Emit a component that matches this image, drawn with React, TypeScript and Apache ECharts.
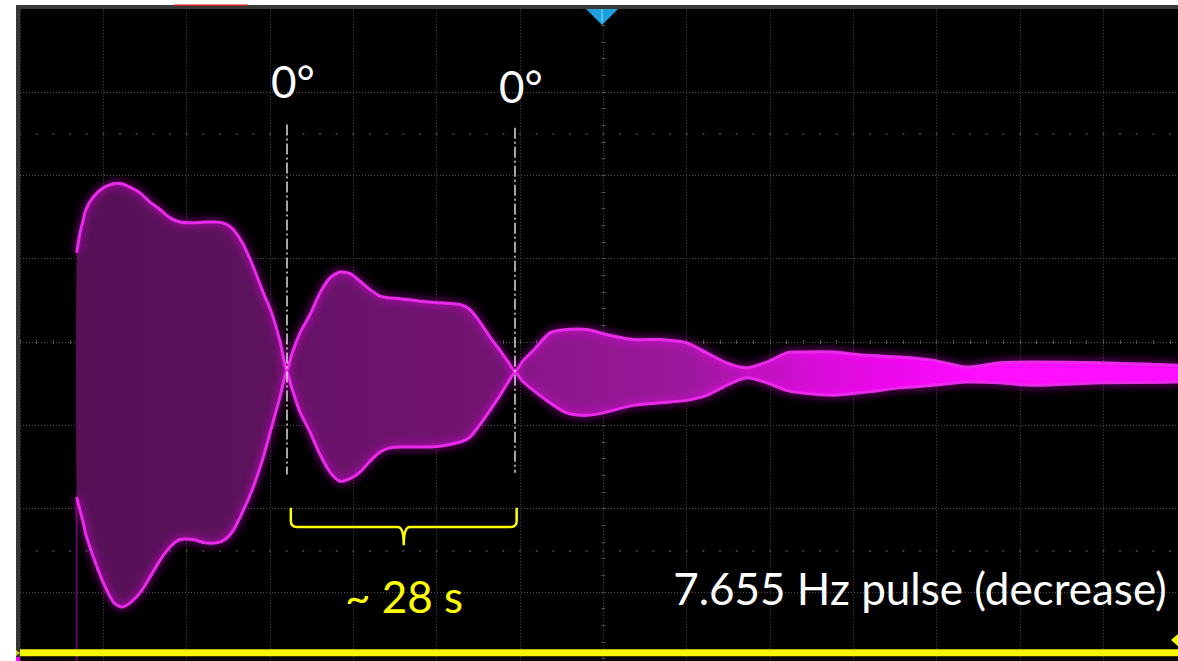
import React, { useEffect, useRef } from "react";
import * as echarts from "echarts";

// time in seconds (10 s / division, 0 = trigger position at screen centre)
const times = [
  -63.2, -62.8, -62.4, -62.1, -61.2, -60.0, -58.8, -57.8, -56.8, -55.6, -54.4, -53.2, -52.0,
  -50.8, -49.2, -47.8, -46.4, -45.4, -44.4, -43.2, -42.0, -40.8, -39.8, -38.8, -38.0,
  -37.4, -36.4, -35.2, -34.0, -32.8, -31.6, -30.4, -29.2, -28.0, -26.8, -25.6, -24.4, -22.0,
  -19.6, -17.2, -16.0, -14.8, -13.6, -12.4, -11.4, -10.6,
  -9.6, -8.4, -6.4, -4.4, -2.0, 0.4, 3.6, 6.8, 10.0, 12.4, 14.8, 17.2, 19.6, 22.0, 23.6, 27.6,
  31.6, 35.6, 39.6, 43.6, 47.6, 51.6, 59.6, 69.0,
];
// upper envelope of the 7.655 Hz pulse (divisions)
const upperEnv = [
  1.07, 1.31, 1.47, 1.59, 1.74, 1.85, 1.9, 1.9, 1.86, 1.79, 1.68, 1.59, 1.49,
  1.44, 1.43, 1.44, 1.44, 1.42, 1.35, 1.17, 0.9, 0.59, 0.35, 0.01, -0.34,
  -0.15, 0.11, 0.33, 0.59, 0.77, 0.84, 0.82, 0.73, 0.63, 0.55, 0.53, 0.52, 0.49,
  0.47, 0.45, 0.39, 0.24, 0.06, -0.1, -0.24, -0.35,
  -0.22, -0.1, 0.11, 0.15, 0.15, 0.09, 0.03, 0.03, -0.01, -0.13, -0.25, -0.31, -0.24, -0.13, -0.12, -0.12,
  -0.16, -0.18, -0.22, -0.3, -0.25, -0.24, -0.25, -0.28,
];
// lower envelope (divisions)
const lowerEnv = [
  -1.86, -2.02, -2.17, -2.31, -2.58, -2.89, -3.12, -3.18, -3.13, -3.01, -2.82, -2.62, -2.46,
  -2.37, -2.37, -2.41, -2.41, -2.37, -2.26, -2.02, -1.74, -1.38, -1.02, -0.66, -0.36,
  -0.55, -0.84, -1.08, -1.35, -1.56, -1.67, -1.64, -1.56, -1.43, -1.32, -1.27, -1.26, -1.26,
  -1.25, -1.2, -1.14, -0.99, -0.82, -0.64, -0.48, -0.37,
  -0.48, -0.58, -0.73, -0.85, -0.88, -0.84, -0.76, -0.73, -0.7, -0.64, -0.52, -0.43, -0.49, -0.58, -0.61, -0.64,
  -0.6, -0.55, -0.52, -0.48, -0.49, -0.52, -0.49, -0.48,
];
// channel 1 (yellow) flat trace level, divisions
const ch1Level = -3.73;
// 0° phase points: [time, top, bottom] of the dash-dot markers
const phaseMarks = [
  [-38.0, 2.61, -1.59],
  [-10.6, 2.57, -1.57],
];
// period bracket: [start, end, top, bar, tip]
const periodBracket = [-37.5, -10.4, -1.99, -2.22, -2.44];

const FONT = "Lato, 'Open Sans', sans-serif";

export default function App() {
  const ref = useRef<HTMLDivElement>(null);
  useEffect(() => {
    if (!ref.current) return;
    const chart = echarts.init(ref.current, undefined, { renderer: "svg" });

    const envData = times.map((t, i) => [t, upperEnv[i], lowerEnv[i]]);

    const fill = new echarts.graphic.LinearGradient(0, 0, 1, 0, [
      { offset: 0, color: "#561056" },
      { offset: 0.19, color: "#5e125e" },
      { offset: 0.21, color: "#681268" },
      { offset: 0.39, color: "#741474" },
      { offset: 0.42, color: "#8c168c" },
      { offset: 0.55, color: "#9c189c" },
      { offset: 0.61, color: "#b414b4" },
      { offset: 0.66, color: "#d40ed4" },
      { offset: 0.74, color: "#ec08ec" },
      { offset: 0.82, color: "#ff10ff" },
      { offset: 1, color: "#ff10ff" },
    ]);

    const edgeStyle = {
      stroke: "#ea2aea",
      lineWidth: 3,
      fill: null,
      shadowBlur: 8,
      shadowColor: "rgba(255,0,255,0.9)",
    };

    const gridColor = "#4c4c4c";

    const txt = (text: string, x: number, y: number, color: string, align: string) => ({
      type: "text",
      x,
      y,
      z: 100,
      style: {
        text,
        fill: color,
        font: `44px ${FONT}`,
        align,
        verticalAlign: "middle",
        textAlign: align,
        textVerticalAlign: "middle",
      },
    });

    const axisTicks = {
      axisTick: { show: true, length: 2, lineStyle: { color: "#555" } },
      minorTick: { show: true, splitNumber: 5, length: 2, lineStyle: { color: "#555" } },
      axisLabel: { show: false },
    };

    chart.setOption({
      animation: false,
      backgroundColor: "#000000",
      grid: { left: 20, top: 8.7, width: 1166.67, height: 666.67, show: false },
      xAxis: [
        {
          type: "value",
          min: -70,
          max: 70,
          interval: 10,
          position: "bottom",
          axisLine: { show: false, onZero: true },
          ...axisTicks,
          splitLine: { show: true, lineStyle: { color: gridColor, type: [1, 2], width: 1 } },
        },
        {
          type: "value",
          min: -70,
          max: 70,
          interval: 10,
          position: "top",
          axisLine: { show: false, onZero: true },
          ...axisTicks,
          splitLine: { show: false },
        },
      ],
      yAxis: [
        {
          type: "value",
          min: -4,
          max: 4,
          interval: 1,
          position: "left",
          axisLine: { show: false, onZero: true },
          ...axisTicks,
          splitLine: { show: true, lineStyle: { color: gridColor, type: [1, 2], width: 1 } },
        },
        {
          type: "value",
          min: -4,
          max: 4,
          interval: 1,
          position: "right",
          axisLine: { show: false, onZero: true },
          ...axisTicks,
          splitLine: { show: false },
        },
      ],
      series: [
        {
          name: "decor",
          type: "line",
          data: [],
          silent: true,
          markLine: {
            silent: true,
            symbol: "none",
            z: 1,
            label: { show: false },
            lineStyle: { color: "#4a4a4a", type: [2, 14.667], width: 1.5, dashOffset: 1 },
            data: [{ yAxis: 2.5 }, { yAxis: -2.5 }],
          },
        },
        {
          name: "start",
          type: "line",
          data: [
            [times[0], lowerEnv[0]],
            [times[0], -4.2],
          ],
          symbol: "none",
          silent: true,
          lineStyle: { color: "#5c0a5c", width: 2 },
          z: 2,
        },
        {
          name: "envelope",
          type: "custom",
          silent: true,
          z: 3,
          data: envData,
          encode: { x: 0, y: [1, 2] },
          renderItem: (params: any, api: any) => {
            if (params.dataIndex !== 0) return null;
            const up = envData.map((d) => api.coord([d[0], d[1]]));
            const lo = envData.map((d) => api.coord([d[0], d[2]]));
            const poly = up.concat(lo.slice().reverse());
            return {
              type: "group",
              children: [
                {
                  type: "polygon",
                  shape: { points: poly, smooth: 0.25 },
                  style: { fill, stroke: null },
                },
                {
                  type: "polyline",
                  shape: { points: up, smooth: 0.25 },
                  style: edgeStyle,
                },
                {
                  type: "polyline",
                  shape: { points: lo, smooth: 0.25 },
                  style: edgeStyle,
                },
              ],
            };
          },
        },
        {
          name: "ch1",
          type: "line",
          data: [
            [-70, ch1Level],
            [70, ch1Level],
          ],
          symbol: "none",
          silent: true,
          lineStyle: { color: "#f6f600", width: 7 },
          z: 5,
          markLine: {
            silent: true,
            symbol: "none",
            label: { show: false },
            lineStyle: { color: "#dcdcdc", type: [11, 3, 2, 3], width: 1.5 },
            data: phaseMarks.map((m) => [
              { coord: [m[0], m[1]] },
              { coord: [m[0], m[2]] },
            ]),
          },
        },
        {
          name: "bracket",
          type: "custom",
          silent: true,
          z: 6,
          data: [periodBracket],
          encode: { x: [0, 1], y: [2, 3, 4] },
          renderItem: (params: any, api: any) => {
            const l = api.coord([api.value(0), api.value(2)]);
            const r = api.coord([api.value(1), api.value(2)]);
            const barY = api.coord([0, api.value(3)])[1];
            const tipY = api.coord([0, api.value(4)])[1];
            const cx = (l[0] + r[0]) / 2;
            const rr = 6;
            const d =
              `M${l[0]},${l[1]} L${l[0]},${barY - rr} Q${l[0]},${barY} ${l[0] + rr},${barY} ` +
              `L${cx - rr},${barY} Q${cx},${barY} ${cx},${tipY} Q${cx},${barY} ${cx + rr},${barY} ` +
              `L${r[0] - rr},${barY} Q${r[0]},${barY} ${r[0]},${barY - rr} L${r[0]},${r[1]}`;
            return {
              type: "path",
              shape: { pathData: d },
              style: { stroke: "#ffff00", lineWidth: 2.5, fill: null },
            };
          },
        },
      ],
      graphic: [
        { type: "rect", z: 100, shape: { x: 0, y: 0, width: 16, height: 680 }, style: { fill: "#ffffff" } },
        { type: "rect", z: 100, shape: { x: 0, y: 0, width: 1190, height: 5 }, style: { fill: "#ffffff" } },
        { type: "rect", z: 100, shape: { x: 16, y: 5, width: 1174, height: 4 }, style: { fill: "#3a3a3a" } },
        { type: "rect", z: 100, shape: { x: 16, y: 5, width: 4, height: 675 }, style: { fill: "#363636" } },
        { type: "rect", z: 101, shape: { x: 174, y: 4.5, width: 74, height: 1.5 }, style: { fill: "#c8201e" } },
        {
          type: "polygon",
          z: 101,
          shape: { points: [[586, 9], [618, 9], [602, 25]] },
          style: { fill: "#1ea0dc" },
        },
        {
          type: "line",
          z: 102,
          shape: { x1: 602, y1: 9, x2: 602, y2: 22 },
          style: { stroke: "#8fd8f6", lineWidth: 1 },
        },
        {
          type: "polygon",
          z: 101,
          shape: { points: [[1179, 633], [1179, 647], [1171, 640]] },
          style: { fill: "#f6f600" },
        },
        { type: "rect", z: 101, shape: { x: 16, y: 657, width: 4, height: 4 }, style: { fill: "#ff00ff" } },
        {
          type: "polygon",
          z: 101,
          shape: { points: [[16, 650], [16, 656], [20, 653]] },
          style: { fill: "#d0d000" },
        },
        txt("0°", 271, 81, "#ffffff", "left"),
        txt("0°", 499, 86, "#ffffff", "left"),
        txt("~ 28 s", 404, 596, "#ffff00", "center"),
        txt("7.655 Hz pulse (decrease)", 920, 588, "#ffffff", "center"),
      ],
    });

    return () => chart.dispose();
  }, []);

  return (
    <div
      style={{
        position: "absolute",
        left: 0,
        top: 0,
        width: 1178,
        height: 661,
        overflow: "hidden",
        background: "#000",
      }}
    >
      <div
        ref={ref}
        style={{ position: "absolute", left: 0, top: 0, width: 1187, height: 676 }}
      />
    </div>
  );
}
